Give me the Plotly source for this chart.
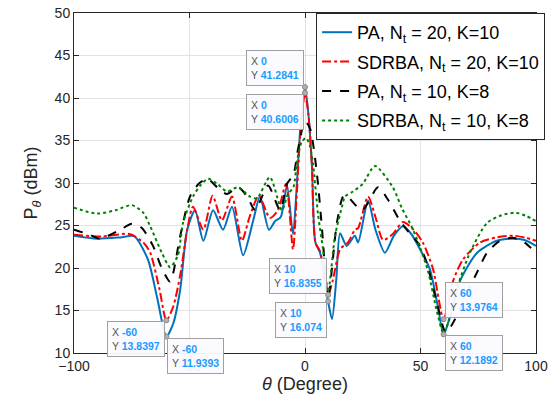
import plotly.graph_objects as go

# ---- data ----
pa20_x = [-100, -90, -80, -74, -68, -64, -60, -57, -54, -51, -47.6, -44, -39.8, -35.5, -31.6, -26.8,
          -22.5, -19.5, -15.6, -13, -10.5, -7.8, -5.2, -3.5, -2, 0, 1.5, 3, 4.5, 6.5, 8.3, 10, 11.7,
          13.5, 15.2, 18, 21.6, 23, 27.3, 30.5, 34.6, 38.5, 42.4, 46, 49.8, 54, 57.5, 60, 63, 67,
          74.5, 83, 90, 95, 100]
pa20_y = [23.8, 23.45, 23.6, 23.75, 21.0, 16.5, 11.94, 13.5, 17.5, 24.5, 26.8, 23.2, 26.8, 24.5, 27.2, 21.5,
          25.5, 28.4, 24.5, 25.5, 26.0, 29.7, 24.0, 30.0, 36.5, 41.28, 38.0, 32.0, 23.0, 21.8, 19.0, 16.07, 14.0,
          18.5, 24.1, 22.6, 23.8, 23.0, 27.9, 24.5, 21.8, 23.8, 24.9, 24.0, 22.2, 19.9, 15.5, 12.19, 14.5, 18.4,
          21.8, 23.2, 23.45, 23.3, 22.6]

sd20_x = [-100, -88, -76, -70, -67, -63, -60, -57, -54, -51, -48.5, -44, -40, -36, -31.6, -27.3, -24, -20,
          -15.2, -11.7, -8.2, -5.2, -3.5, -2, 0, 1.5, 3, 4.5, 6.5, 8.3, 10, 12, 15.2, 18.6, 21.6, 23, 27.3,
          30.5, 33.8, 38, 42.4, 47, 51, 55.4, 60, 64, 68.4, 75.8, 83, 90, 95, 100]
sd20_y = [23.9, 23.7, 24.0, 23.0, 21.8, 17.5, 13.84, 15.5, 19.2, 24.5, 27.2, 24.5, 28.5, 25.6, 28.4, 23.2, 26.0, 28.5,
          25.9, 26.8, 29.9, 22.2, 29.0, 36.0, 40.6, 38.0, 32.0, 23.0, 22.0, 19.5, 16.84, 18.5, 22.2, 23.0, 24.5, 24.7, 28.4,
          26.0, 23.3, 24.0, 25.4, 24.5, 23.0, 19.9, 13.98, 18.4, 21.0, 23.0, 23.6, 23.8, 23.6, 23.2]

pa10_x = [-100, -94, -88.7, -80, -75, -70.6, -65.8, -62, -58.4, -54, -49.8, -46, -42.4, -38, -33.8, -29, -25,
          -21.6, -16, -10.8, -7.8, -5, -3, 0, 2.2, 5.2, 7.4, 10, 13.8, 16.5, 18, 24.7, 31.6, 36, 41, 45, 49.8,
          53, 57, 61, 65, 70, 74.5, 78.8, 84.4, 90, 95, 100]
pa10_y = [24.5, 24.0, 23.45, 24.5, 25.2, 24.7, 22.6, 20.0, 18.4, 23.8, 28.4, 29.9, 30.5, 29.5, 28.7, 29.5, 28.4,
          26.8, 29.7, 26.8, 29.9, 31.0, 34.0, 37.3, 36.4, 31.0, 24.5, 16.5, 25.3, 28.4, 28.5, 26.8, 29.5, 28.0, 25.6, 24.2, 22.6,
          20.3, 16.0, 12.4, 14.0, 17.0, 19.5, 21.8, 23.2, 23.55, 23.0, 21.8]

sd10_x = [-100, -90, -82, -75, -70, -67, -62, -58.4, -55, -52.8, -48.5, -45, -42, -38, -33.8, -29, -23.8, -20.8,
          -15.2, -10, -7.4, -5, -3.5, -1.5, 0.5, 2, 3.5, 5.6, 7.8, 10, 13, 16, 17.3, 20.8, 25, 30.3, 38, 42, 46.8,
          53, 57, 60, 62.5, 65.8, 71.4, 78.8, 85, 91, 96, 100]
sd10_y = [27.1, 26.4, 26.8, 27.4, 26.5, 24.9, 21.8, 20.1, 21.5, 25.3, 28.4, 29.8, 30.5, 29.9, 29.0, 29.5, 28.4, 28.2,
          30.7, 26.8, 28.7, 29.5, 32.5, 34.8, 35.3, 34.5, 32.2, 26.4, 22.2, 17.2, 23.8, 27.2, 28.4, 29.0, 29.9, 32.0, 29.5, 27.0, 24.5,
          19.9, 15.0, 12.3, 14.0, 17.6, 21.8, 25.3, 26.2, 26.5, 26.1, 25.5]

names = ["PA, N<sub>t</sub> = 20, K=10", "SDRBA, N<sub>t</sub> = 20, K=10",
         "PA, N<sub>t</sub> = 10, K=8", "SDRBA, N<sub>t</sub> = 10, K=8"]

# data tips: x, y, anchor side
tip_x = [0, 0, -60, -60, 10, 10, 60, 60]
tip_y = [41.2841, 40.6006, 13.8397, 11.9393, 16.8355, 16.074, 13.9764, 12.1892]
tip_xanchor = ["right", "right", "right", "left", "right", "right", "left", "left"]
tip_yanchor = ["bottom", "top", "top", "top", "bottom", "top", "bottom", "top"]

FONT = "Liberation Sans, Arial"
fig = go.Figure()
styles = [dict(color="#0072BD", width=2, dash="solid"),
          dict(color="#FF0000", width=2, dash="dashdot"),
          dict(color="#000000", width=2, dash="dash"),
          dict(color="#008000", width=2, dash="dot")]
for i, (xs, ys, nm, st) in enumerate(zip([pa20_x, sd20_x, pa10_x, sd10_x], [pa20_y, sd20_y, pa10_y, sd10_y], names, styles)):
    fig.add_trace(go.Scatter(x=xs, y=ys, mode="lines", name=nm, legendgroup=f"g{i}",
                             line=dict(shape="spline", smoothing=0.7, **st)))

fig.add_trace(go.Scatter(x=tip_x, y=tip_y, mode="markers", showlegend=False,
                         marker=dict(size=5, color="#b0b0b0", line=dict(color="#888", width=1))))

for tx, ty, xa, ya in zip(tip_x, tip_y, tip_xanchor, tip_yanchor):
    fig.add_annotation(x=tx, y=ty, xref="x", yref="y", showarrow=False,
                       xanchor=xa, yanchor=ya, xshift=(-1 if xa == "right" else 1),
                       yshift=(1 if ya == "bottom" else -1), align="left",
                       text=f"X <span style='color:#1a9bff'><b>{tx}</b></span><br>Y <span style='color:#1a9bff'><b>{ty}</b></span>",
                       font=dict(family=FONT, size=10.5, color="#555555"),
                       bgcolor="rgba(250,250,255,0.95)", bordercolor="#a0a0a0", borderwidth=1, borderpad=4)

axis_common = dict(showgrid=True, gridcolor="#e3e3e3", gridwidth=1, zeroline=False,
                   showline=True, linecolor="#262626", linewidth=1, mirror="ticks",
                   ticks="inside", ticklen=5, tickcolor="#262626", ticklabeloverflow="allow",
                   tickfont=dict(family=FONT, size=14, color="#262626"))

fig.update_xaxes(range=[-100, 100], tickvals=[-100, -50, 0, 50, 100],
                 title=dict(text="<i>θ</i> (Degree)", font=dict(family=FONT, size=18, color="#262626"), standoff=4),
                 **axis_common)
fig.update_yaxes(range=[10, 50], tickvals=[10, 15, 20, 25, 30, 35, 40, 45, 50],
                 title=dict(text="P<sub><i>θ</i></sub> (dBm)", font=dict(family=FONT, size=18, color="#262626"), standoff=12),
                 **axis_common)

fig.update_layout(width=558, height=401, margin=dict(l=74, r=22, t=5, b=48),
                  plot_bgcolor="white", paper_bgcolor="white",
                  legend=dict(x=0.524, y=1.0, xanchor="left", yanchor="top",
                              bgcolor="white", bordercolor="#262626", borderwidth=1,
                              font=dict(family=FONT, size=18, color="#000000"),
                              tracegroupgap=3, itemwidth=30))

fig.write_html("out.html")
